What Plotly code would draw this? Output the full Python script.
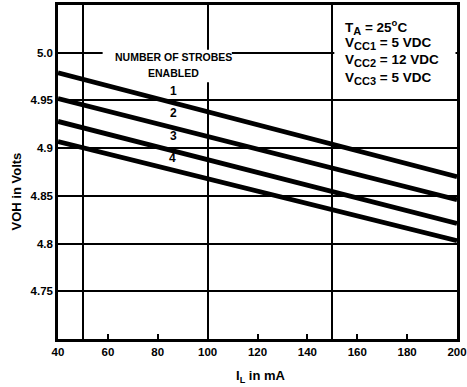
import plotly.graph_objects as go

# Data
il_ma = [40, 200]
strobes = ["1", "2", "3", "4"]
voh_series = {
    "1": [4.979, 4.870],
    "2": [4.952, 4.846],
    "3": [4.928, 4.821],
    "4": [4.907, 4.803],
}
x_ticks = [40, 60, 80, 100, 120, 140, 160, 180, 200]
x_grid = [50, 100, 150]
y_ticks = [4.75, 4.8, 4.85, 4.9, 4.95, 5.0]
y_tick_text = ["4.75", "4.8", "4.85", "4.9", "4.95", "5.0"]
label_pos = {"1": (86.2, 4.9604), "2": (86.2, 4.9365), "3": (86.2, 4.9125), "4": (85.8, 4.8896)}
SUB = '<sub><span style="font-size:11px">{}</span></sub>'
cond_lines = ["T" + SUB.format("A") + " = 25<sup>o</sup>C",
              "V" + SUB.format("CC1") + " = 5 VDC",
              "V" + SUB.format("CC2") + " = 12 VDC",
              "V" + SUB.format("CC3") + " = 5 VDC"]
cond_y = [5.027, 5.0093, 4.9916, 4.9729]

FONT = "Liberation Sans, Arial, sans-serif"

fig = go.Figure()
for s in strobes:
    fig.add_trace(go.Scatter(x=il_ma, y=voh_series[s], mode="lines",
                             line=dict(color="black", width=4.8), showlegend=False,
                             hoverinfo="skip"))

# white areas that interrupt grid lines behind text
fig.add_shape(type="rect", xref="x", yref="y", x0=57.9, x1=109.7, y0=4.969, y1=5.003,
              fillcolor="white", line=dict(width=0), layer="between")
fig.add_shape(type="rect", xref="x", yref="y", x0=150.8, x1=199.4, y0=4.953, y1=5.048,
              fillcolor="white", line=dict(width=0), layer="between")

ann = []
ann.append(dict(x=86.2, y=4.9955, xref="x", yref="y", text="NUMBER OF STROBES",
                showarrow=False, font=dict(size=10.5, family=FONT, color="black", weight="bold")))
ann.append(dict(x=86.2, y=4.9785, xref="x", yref="y", text="ENABLED",
                showarrow=False, font=dict(size=10.5, family=FONT, color="black", weight="bold")))
for s in strobes:
    px, py = label_pos[s]
    ann.append(dict(x=px, y=py, xref="x", yref="y", text=s, showarrow=False,
                    font=dict(size=12, family=FONT, color="black", weight="bold")))
for t, yy in zip(cond_lines, cond_y):
    ann.append(dict(x=154.2, y=yy, xref="x", yref="y", text=t, showarrow=False,
                    xanchor="left", font=dict(size=13.5, family=FONT, color="black", weight="bold")))
ann.append(dict(x=-0.128, y=0.443, xref="paper", yref="paper", text="VOH in Volts",
                textangle=-90, showarrow=False,
                font=dict(size=13, family=FONT, color="black", weight="bold")))
ann.append(dict(x=0.51, y=-0.111, xref="paper", yref="paper", text="I<sub>L</sub> in mA",
                showarrow=False, yanchor="middle",
                font=dict(size=13, family=FONT, color="black", weight="bold")))

fig.update_layout(
    width=467, height=387,
    margin=dict(l=58, r=10, t=5, b=48),
    paper_bgcolor="white", plot_bgcolor="white",
    font=dict(family=FONT, size=11, color="black", weight="bold"),
    annotations=ann,
    showlegend=False,
)
fig.update_xaxes(range=[40, 200], tickvals=x_ticks, ticktext=[str(v) for v in x_ticks],
                 ticks="inside", ticklen=5, tickwidth=2, tickcolor="black",
                 showgrid=False, zeroline=False, ticklabeloverflow="allow", automargin=False,
                 showline=True, linewidth=2.5, linecolor="black", mirror=True,
                 minor=dict(tickvals=x_grid, showgrid=True, gridcolor="black", gridwidth=2, ticks=""),
                 tickfont=dict(size=11.5, family=FONT, color="black", weight="bold"))
fig.update_yaxes(range=[4.7, 5.05], tickvals=y_ticks, ticktext=y_tick_text, automargin=False,
                 ticks="", showgrid=True, gridcolor="black", gridwidth=2, zeroline=False,
                 showline=True, linewidth=2.5, linecolor="black", mirror=True,
                 tickfont=dict(size=11.5, family=FONT, color="black", weight="bold"))

fig.write_html("out.html")
